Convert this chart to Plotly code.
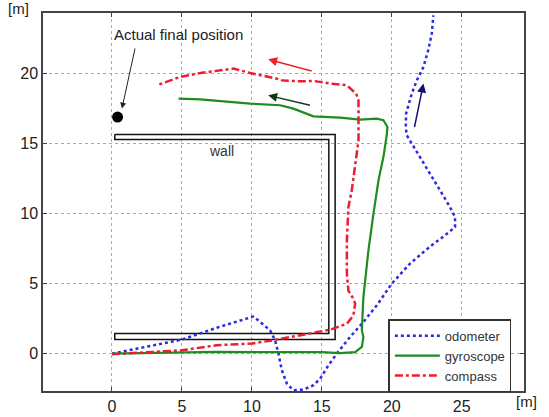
import plotly.graph_objects as go

# ---------------- data ----------------
odo_x = [0, 2.5, 5, 7.5, 10.1, 10.6, 11.3, 11.66, 11.9, 12.14, 12.5, 12.97, 13.69, 14.4, 14.88, 15.47,
         16.07, 17.02, 17.97, 18.93, 19.64, 20.0, 21.3, 22.7, 23.8, 24.52, 24.52, 24.16, 23.45, 22.74,
         22.02, 21.3, 21.07, 21.0, 21.02, 21.43, 21.79, 22.26, 22.6, 22.86, 22.97]
odo_y = [0, 0.5, 1.0, 1.85, 2.65, 2.26, 1.66, 0.95, 0.0, -1.19, -2.14, -2.62, -2.57, -2.26, -1.79, -0.84,
         0.0, 1.19, 2.26, 3.45, 4.52, 5.0, 6.43, 7.62, 8.45, 9.04, 9.76, 10.47, 11.66, 12.86,
         14.04, 15.24, 15.6, 16.19, 17.14, 18.57, 19.52, 20.47, 21.66, 22.86, 24.16]

gyro_x = [0, 2.5, 5, 7.5, 10, 12.5, 15, 16.3, 17.38, 17.86, 17.97, 17.86, 17.97, 18.1, 18.33, 18.69,
          19.05, 19.4, 19.6, 19.64, 19.69, 19.4, 18.93, 17.74, 16.31, 14.4, 12.97, 12.02, 9.88, 7.74,
          6.31, 4.76]
gyro_y = [0, 0.05, 0.07, 0.12, 0.1, 0.12, 0.1, 0.04, 0.11, 0.48, 1.19, 1.67, 4.04, 5.24, 7.38, 10.0,
          12.38, 14.04, 15.24, 15.6, 16.19, 16.67, 16.79, 16.71, 16.86, 16.95, 17.5, 17.74, 17.86, 18.05,
          18.16, 18.21]

comp_x = [0, 2.5, 5, 7.5, 10, 11.5, 13.93, 15.6, 16.8, 17.26, 17.38, 17.26, 16.9, 16.79, 16.79, 16.9,
          17.14, 17.38, 17.62, 17.62, 17.62, 17.45, 16.79, 15.6, 14.4, 13.45, 12.02, 11.79, 9.88,
          8.69, 7.74, 6.31, 4.88, 3.21]
comp_y = [-0.05, 0.1, 0.24, 0.6, 0.72, 0.95, 1.43, 1.71, 2.14, 2.74, 3.57, 3.9, 4.5, 5.71, 8.1, 10.47,
          11.66, 13.33, 15.24, 17.0, 18.1, 18.57, 19.17, 19.29, 19.48, 19.45, 19.52, 19.64, 20.04,
          20.36, 20.24, 20.04, 19.76, 19.17]

wall_x = [0.2, 15.95, 15.95, 0.2, 0.2, 15.5, 15.5, 0.2, 0.2]
wall_y = [15.65, 15.65, 1.0, 1.0, 1.43, 1.43, 15.3, 15.3, 15.65]

final_x = [0.4]
final_y = [16.9]

x_ticks = [0, 5, 10, 15, 20, 25]
y_ticks = [0, 5, 10, 15, 20]

BLUE = "#2a2ae0"
GREEN = "#1e8c1e"
RED = "#ee1c2e"

fig = go.Figure()

fig.add_trace(go.Scatter(x=wall_x, y=wall_y, mode="lines", line=dict(color="#111111", width=1.5),
                         showlegend=False, hoverinfo="skip"))
fig.add_trace(go.Scatter(x=odo_x, y=odo_y, mode="lines", name="odometer",
                         line=dict(color=BLUE, width=2.5, dash="dot")))
fig.add_trace(go.Scatter(x=gyro_x, y=gyro_y, mode="lines", name="gyroscope",
                         line=dict(color=GREEN, width=2.2)))
fig.add_trace(go.Scatter(x=comp_x, y=comp_y, mode="lines", name="compass",
                         line=dict(color=RED, width=2.5, dash="8px,3px,3px,3px")))
fig.add_trace(go.Scatter(x=final_x, y=final_y, mode="markers", marker=dict(color="black", size=11),
                         showlegend=False, hoverinfo="skip"))

# annotations
fig.add_annotation(x=4.75, y=22.8, text="Actual final position", showarrow=False,
                   font=dict(size=15, color="#222222", family="Liberation Sans, Arial"))
fig.add_annotation(x=0.71, y=17.5, ax=1.67, ay=21.9, xref="x", yref="y", axref="x", ayref="y",
                   text="", showarrow=True, arrowhead=2, arrowsize=1.2, arrowwidth=1, arrowcolor="#222222")
fig.add_annotation(x=7.8, y=14.5, text="wall", showarrow=False,
                   font=dict(size=14, color="#333333", family="Liberation Sans, Arial"))
fig.add_annotation(x=11.16, y=21.02, ax=14.38, ay=20.16, xref="x", yref="y", axref="x", ayref="y",
                   text="", showarrow=True, arrowhead=2, arrowsize=1.2, arrowwidth=1.5, arrowcolor="#ee2222")
fig.add_annotation(x=11.16, y=18.45, ax=14.26, ay=17.71, xref="x", yref="y", axref="x", ayref="y",
                   text="", showarrow=True, arrowhead=2, arrowsize=1.2, arrowwidth=1.5, arrowcolor="#0f3a0f")
fig.add_annotation(x=22.26, y=19.29, ax=21.6, ay=16.07, xref="x", yref="y", axref="x", ayref="y",
                   text="", showarrow=True, arrowhead=2, arrowsize=1.2, arrowwidth=1.5, arrowcolor="#101070")
fig.add_annotation(x=-0.05, y=1.0, xref="paper", yref="paper", xanchor="center", yanchor="bottom",
                   text="[m]", showarrow=False, font=dict(size=15, color="#222222"), yshift=-6)
fig.add_annotation(x=1.006, y=0, xref="paper", yref="paper", xanchor="center", yanchor="top",
                   text="[m]", showarrow=False, font=dict(size=15, color="#222222"), yshift=0)

axis_common = dict(showline=True, linecolor="#444444", linewidth=1.5, mirror="ticks",
                   ticks="inside", ticklen=4, tickcolor="#444444", automargin=False,
                   showgrid=True, gridcolor="#aaaaaa", griddash="dot", gridwidth=1,
                   zeroline=False, tickfont=dict(size=16, color="#222222",
                                                 family="Liberation Sans, Arial"))

fig.update_xaxes(range=[-4.93, 29.45], tickvals=x_ticks, **axis_common)
fig.update_yaxes(range=[-2.67, 24.33], tickvals=y_ticks, **axis_common)

fig.update_layout(
    width=549, height=417,
    margin=dict(l=43, r=25, t=13, b=26),
    plot_bgcolor="white", paper_bgcolor="white",
    font=dict(family="Liberation Sans, Arial", color="#333333"),
    legend=dict(x=0.718, y=0.19, xanchor="left", yanchor="top",
                bgcolor="white", bordercolor="#333333", borderwidth=1.5,
                font=dict(size=13, color="#333333"), itemwidth=45, tracegroupgap=0),
)

fig.write_html("out.html", config={"displayModeBar": False},
               post_script="document.body.style.margin='0';document.body.style.overflow='hidden';")
